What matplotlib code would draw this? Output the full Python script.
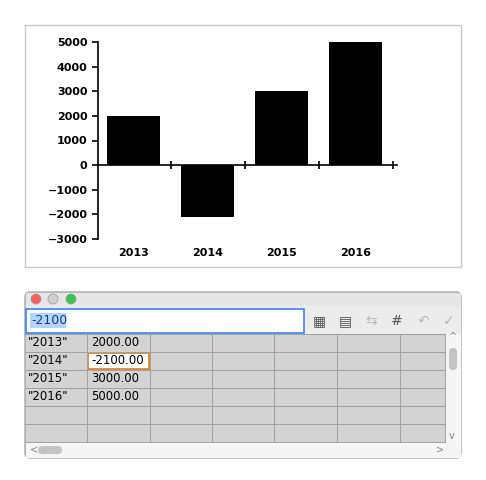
import matplotlib.pyplot as plt
from matplotlib.patches import Rectangle, FancyBboxPatch, Circle

years = ['2013', '2014', '2015', '2016']
values = [2000, -2100, 3000, 5000]
selected = 1

fig = plt.figure(figsize=(4.86, 4.80), dpi=100)

# overlay in pixel coordinates for the panels
bg = fig.add_axes([0, 0, 1, 1])
bg.set_xlim(0, 486)
bg.set_ylim(480, 0)
bg.axis('off')

# chart frame
bg.add_patch(Rectangle((25, 25), 436, 242, fc='white', ec='#c8c8c8', lw=1))

# chart
ax = fig.add_axes([98 / 486, 1 - 239 / 480, 299 / 486, 197 / 480])
ax.bar(range(len(years)), values, width=0.72, color='black')
ax.set_xlim(-0.48, 3.56)
ax.set_ylim(-3000, 5000)
ax.set_yticks(range(-3000, 5001, 1000))
ax.tick_params(axis='y', labelsize=8, length=4, width=1.2)
for lab in ax.get_yticklabels():
    lab.set_fontweight('bold')
ax.spines['top'].set_visible(False)
ax.spines['right'].set_visible(False)
ax.spines['left'].set_linewidth(1.2)
ax.spines['bottom'].set_position(('data', 0))
ax.spines['bottom'].set_linewidth(1.2)
ax.set_xticks([0.5, 1.5, 2.5, 3.5])
ax.set_xticklabels([])
ax.tick_params(axis='x', direction='inout', length=6, width=1.2)
for i, y in enumerate(years):
    ax.text(i, -3350, y, ha='center', va='top', fontsize=8, fontweight='bold')

# spreadsheet window
bg.add_patch(FancyBboxPatch((25, 292), 436, 166, boxstyle='round,pad=0,rounding_size=5',
                            fc='#d6d6d6', ec='#a8a8a8', lw=1))
bg.add_patch(Rectangle((25.5, 292.5), 435, 13, fc='#e6e6e6', ec='none'))
for cx, col in zip([36, 53, 71], ['#fc605b', '#cfcfcf', '#34c84a']):
    bg.add_patch(Circle((cx, 299), 5, fc=col, ec='#999999', lw=0.5))
bg.add_patch(Rectangle((25.5, 306), 435, 28, fc='#ececec', ec='none'))
bg.add_patch(Rectangle((26, 309), 278, 24, fc='white', ec='#3b82f6', lw=1.2))
bg.add_patch(Rectangle((30, 313), 36, 15, fc='#b3d4fc', ec='none'))
bg.text(31, 321, str(values[selected]), fontsize=9, va='center', color='#1a3a80')
icons = ['▦', '▤', '⇆', '#', '↶', '✓']
for k, ic in enumerate(icons):
    bg.text(319 + k * 26, 321, ic, fontsize=10, ha='center', va='center',
            color='#555555' if k in (0, 1, 3) else '#bbbbbb')

# grid
col_x = [25, 87, 150, 212, 274, 337, 400, 445]
row_y = [334, 352, 370, 388, 406, 424, 442]
bg.add_patch(Rectangle((25.5, 334), 419.5, 108, fc='#d3d3d3', ec='none'))
for x in col_x[1:]:
    bg.plot([x, x], [334, 442], color='#a0a0a0', lw=0.7)
for y in row_y:
    bg.plot([25, 445], [y, y], color='#a0a0a0', lw=0.7)
for i, (yr, v) in enumerate(zip(years, values)):
    yc = row_y[i] + 9
    bg.text(28, yc, '"%s"' % yr, fontsize=8.5, va='center')
    if i == selected:
        bg.add_patch(Rectangle((88, row_y[i] + 1), 61, 16, fc='white', ec='#e07b1a', lw=1.2))
    bg.text(91, yc, '%.2f' % v, fontsize=8.5, va='center')

# scrollbars
bg.add_patch(Rectangle((445, 334), 16, 108, fc='#f5f5f5', ec='none'))
bg.add_patch(FancyBboxPatch((449, 348), 8, 22, boxstyle='round,pad=0,rounding_size=4',
                            fc='#c4c4c4', ec='none'))
bg.add_patch(Rectangle((25.5, 442), 435, 15.5, fc='#f5f5f5', ec='none'))
bg.add_patch(FancyBboxPatch((38, 446), 24, 8, boxstyle='round,pad=0,rounding_size=4',
                            fc='#c4c4c4', ec='none'))
bg.text(30, 450, '<', fontsize=7, va='center', color='#888888')
bg.text(436, 450, '>', fontsize=7, va='center', color='#888888')
bg.text(449, 337, '^', fontsize=7, va='center', color='#888888')
bg.text(449, 436, 'v', fontsize=7, va='center', color='#888888')

fig.savefig('out.png', dpi=100)
